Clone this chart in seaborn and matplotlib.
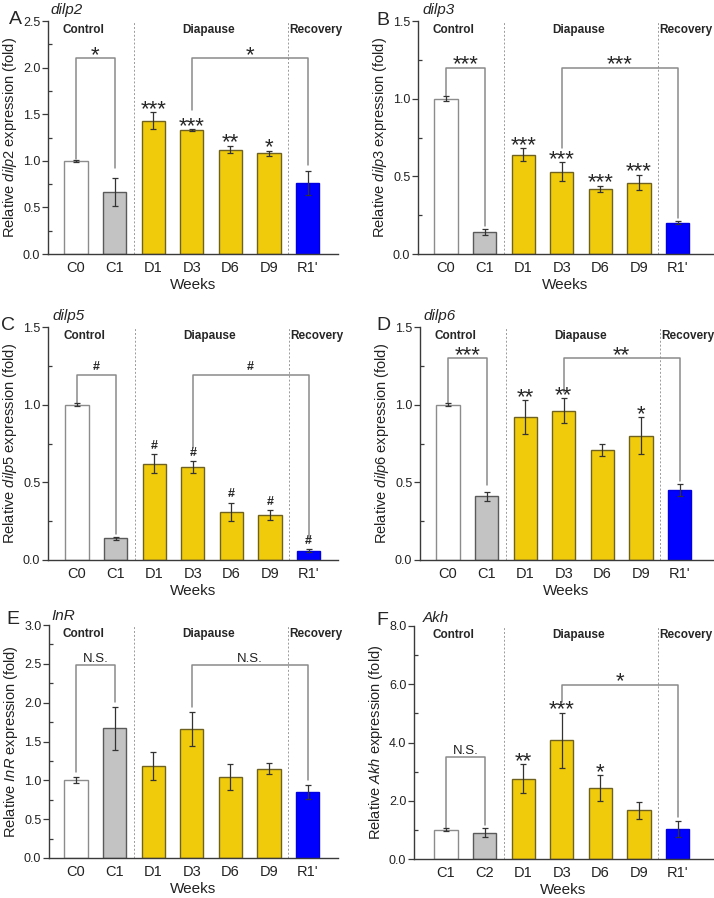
import matplotlib
matplotlib.use("Agg")
import matplotlib.pyplot as plt
import matplotlib.transforms as mtransforms
from matplotlib.ticker import MultipleLocator, FormatStrFormatter
import seaborn as sns

sns.set_style("white")
plt.rcParams['font.family'] = ['Liberation Sans', 'DejaVu Sans']
plt.rcParams['mathtext.fontset'] = 'custom'
plt.rcParams['mathtext.it'] = 'Liberation Sans:italic'
plt.rcParams['mathtext.rm'] = 'Liberation Sans'

# ---- data ----
weeks = ["C0", "C1", "D1", "D3", "D6", "D9", "R1'"]
weeks_akh = ["C1", "C2", "D1", "D3", "D6", "D9", "R1'"]

dilp2_mean = [1.00, 0.67, 1.43, 1.33, 1.12, 1.08, 0.76]
dilp2_err = [0.01, 0.15, 0.09, 0.01, 0.04, 0.03, 0.13]
dilp2_marks = ["", "", "***", "***", "**", "*", ""]

dilp3_mean = [1.00, 0.14, 0.64, 0.53, 0.42, 0.46, 0.20]
dilp3_err = [0.015, 0.02, 0.04, 0.06, 0.02, 0.05, 0.01]
dilp3_marks = ["", "", "***", "***", "***", "***", ""]

dilp5_mean = [1.00, 0.14, 0.62, 0.60, 0.31, 0.29, 0.06]
dilp5_err = [0.01, 0.01, 0.06, 0.04, 0.06, 0.03, 0.01]
dilp5_marks = ["", "", "#", "#", "#", "#", "#"]

dilp6_mean = [1.00, 0.41, 0.92, 0.96, 0.71, 0.80, 0.45]
dilp6_err = [0.01, 0.03, 0.11, 0.08, 0.04, 0.12, 0.04]
dilp6_marks = ["", "", "**", "**", "", "*", ""]

inr_mean = [1.00, 1.67, 1.18, 1.66, 1.04, 1.15, 0.85]
inr_err = [0.04, 0.28, 0.18, 0.22, 0.17, 0.07, 0.09]
inr_marks = ["", "", "", "", "", "", ""]

akh_mean = [1.00, 0.90, 2.75, 4.07, 2.43, 1.67, 1.02]
akh_err = [0.05, 0.15, 0.50, 0.95, 0.45, 0.28, 0.28]
akh_marks = ["", "", "**", "***", "*", "", ""]

# brackets: (bar a, bar b, top level, leg end a, leg end b, label)
dilp2_brackets = [(0, 1, 2.10, 1.02, 0.92, "*"), (3, 6, 2.10, 1.54, 0.95, "*")]
dilp3_brackets = [(0, 1, 1.20, 1.02, 0.18, "***"), (3, 6, 1.20, 0.68, 0.23, "***")]
dilp5_brackets = [(0, 1, 1.19, 1.01, 0.17, "#"), (3, 6, 1.19, 0.72, 0.135, "#")]
dilp6_brackets = [(0, 1, 1.30, 1.01, 0.48, "***"), (3, 6, 1.30, 1.08, 0.51, "**")]
inr_brackets = [(0, 1, 2.49, 1.11, 2.01, "N.S."), (3, 6, 2.49, 1.95, 1.00, "N.S.")]
akh_brackets = [(0, 1, 3.49, 1.05, 1.17, "N.S."), (3, 6, 5.98, 5.40, 1.45, "*")]

bar_colors = ["#FFFFFF", "#C3C3C3", "#F0CB0C", "#F0CB0C", "#F0CB0C", "#F0CB0C", "#0000FF"]
edge_colors = ["#8C8C8C", "#5A5A5A", "#6F6220", "#6F6220", "#6F6220", "#6F6220", "#0000E0"]

W, H = 714, 898
fig = plt.figure(figsize=(W / 100, H / 100), dpi=100)
SP = 38.6  # pixel spacing between bars


def px_axes(left, right, top, bottom):
    return fig.add_axes([left / W, 1 - bottom / H, (right - left) / W, (bottom - top) / H])


def draw_panel(box, first_bar, cats, mean, err, marks, brackets, gene, letter,
               letter_xy, gene_xy, ymax, major, minor, fmt):
    left, right, top, bottom = box
    ax = px_axes(left, right, top, bottom)
    sns.barplot(x=cats, y=mean, hue=cats, palette=bar_colors, legend=False,
                order=cats, hue_order=cats, width=0.6, ax=ax, saturation=1)
    for p, ec in zip(ax.patches, edge_colors):
        p.set_edgecolor(ec)
        p.set_linewidth(1.0)
    xs = list(range(len(cats)))
    ax.errorbar(xs, mean, yerr=err, fmt='none', ecolor='#333333',
                elinewidth=0.9, capsize=2.2, capthick=0.9, zorder=3)

    ax.set_xlim((left - first_bar) / SP, (right - first_bar) / SP)
    ax.set_ylim(0, ymax)
    ax.yaxis.set_major_locator(MultipleLocator(major))
    ax.yaxis.set_minor_locator(MultipleLocator(minor))
    ax.yaxis.set_major_formatter(FormatStrFormatter(fmt))
    for s in ['top', 'right']:
        ax.spines[s].set_visible(False)
    for s in ['left', 'bottom']:
        ax.spines[s].set_color('#3a3a3a')
        ax.spines[s].set_linewidth(1.0)
    ax.tick_params(axis='y', which='major', left=True, direction='out', length=4,
                   width=0.9, color='#3a3a3a', labelsize=9, labelcolor='#222222', pad=1.5)
    ax.tick_params(axis='y', which='minor', left=True, direction='in', length=3,
                   width=0.9, color='#3a3a3a')
    ax.tick_params(axis='x', length=0, labelsize=10.5, labelcolor='#222222', pad=5)
    ax.set_xlabel("Weeks", fontsize=11, labelpad=2, color='#222222')
    ax.set_ylabel(r"Relative $\mathit{%s}$ expression (fold)" % gene,
                  fontsize=10.5, labelpad=3, color='#222222')

    # group separators and titles
    for xv in [1.5, 5.5]:
        ax.axvline(xv, color='#9a9a9a', lw=0.7, ls=(0, (2, 2)), zorder=0)
    trans = mtransforms.blended_transform_factory(ax.transData, ax.transAxes)
    ax.text(0.2, 0.96, "Control", transform=trans, ha='center', va='center',
            fontsize=8.5, fontweight='bold')
    ax.text(3.44, 0.96, "Diapause", transform=trans, ha='center', va='center',
            fontsize=8.5, fontweight='bold')
    ax.text(5.52, 0.96, "Recovery", transform=trans, ha='left', va='center',
            fontsize=8.5, fontweight='bold')

    # significance marks above bars
    for x, m, e, mk in zip(xs, mean, err, marks):
        if not mk:
            continue
        if mk == "#":
            ax.annotate(mk, (x, m + e), xytext=(0, 1.5), textcoords='offset points',
                        ha='center', va='bottom', fontsize=9, fontweight='bold')
        else:
            ax.annotate(mk, (x, m + e), xytext=(0, -2), textcoords='offset points',
                        ha='center', va='baseline', fontsize=16)

    # comparison brackets
    for a, b, yt, ya, yb, lab in brackets:
        ax.plot([a, a, b, b], [ya, yt, yt, yb], color='#8a8a8a', lw=1.1, zorder=2)
        xm = (a + b) / 2
        if lab.startswith("*"):
            ax.annotate(lab, (xm, yt), xytext=(0, -2), textcoords='offset points',
                        ha='center', va='baseline', fontsize=16)
        elif lab == "#":
            ax.annotate(lab, (xm, yt), xytext=(0, 1.5), textcoords='offset points',
                        ha='center', va='bottom', fontsize=9, fontweight='bold')
        else:
            ax.annotate(lab, (xm, yt), xytext=(0, 0), textcoords='offset points',
                        ha='center', va='bottom', fontsize=9.5, color='#222222')

    fig.text(letter_xy[0] / W, 1 - letter_xy[1] / H, letter, fontsize=14,
             ha='left', va='baseline')
    fig.text(gene_xy[0] / W, 1 - gene_xy[1] / H, gene, fontsize=11, style='italic',
             ha='left', va='baseline')
    return ax


draw_panel((48, 338, 21, 254), 76, weeks, dilp2_mean, dilp2_err, dilp2_marks,
           dilp2_brackets, "dilp2", "A", (9, 24), (50, 14), 2.5, 0.5, 0.25, '%.1f')
draw_panel((418, 713, 21, 254), 446, weeks, dilp3_mean, dilp3_err, dilp3_marks,
           dilp3_brackets, "dilp3", "B", (376, 25), (422, 14), 1.5, 0.5, 0.25, '%.1f')
draw_panel((48, 338, 327, 560), 77, weeks, dilp5_mean, dilp5_err, dilp5_marks,
           dilp5_brackets, "dilp5", "C", (1, 330), (52, 320), 1.5, 0.5, 0.25, '%.1f')
draw_panel((420, 713, 327, 560), 448, weeks, dilp6_mean, dilp6_err, dilp6_marks,
           dilp6_brackets, "dilp6", "D", (376, 330), (423, 320), 1.5, 0.5, 0.25, '%.1f')
draw_panel((49, 338, 625, 858), 76, weeks, inr_mean, inr_err, inr_marks,
           inr_brackets, "InR", "E", (6, 624), (51, 620), 3.0, 0.5, 0.25, '%.1f')
draw_panel((414, 713, 626, 859), 446, weeks_akh, akh_mean, akh_err, akh_marks,
           akh_brackets, "Akh", "F", (376, 625), (423, 622), 8.0, 2.0, 1.0, '%.1f')

fig.savefig("out.png", dpi=100)
